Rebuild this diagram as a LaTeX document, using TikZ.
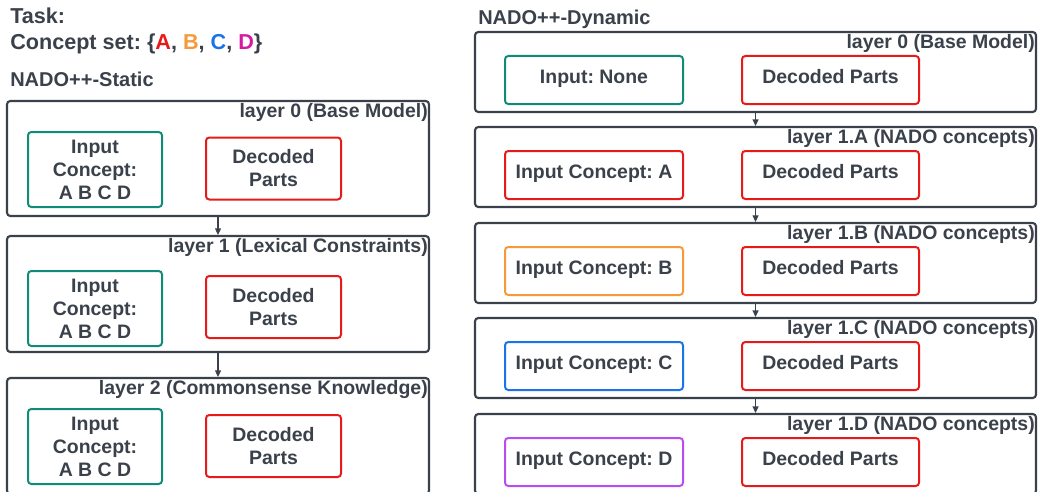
\documentclass[tikz,border=0pt]{standalone}
\usepackage{fontspec}
\setmainfont{Liberation Sans}
\usepackage{xcolor}
\usetikzlibrary{positioning,arrows.meta,calc}
\frenchspacing

\definecolor{lucidgray}{HTML}{3A414A}
\definecolor{conteal}{HTML}{0E8C77}
\definecolor{conred}{HTML}{E81919}
\definecolor{conorange}{HTML}{F59A3A}
\definecolor{conblue}{HTML}{1A73E8}
\definecolor{conpurple}{HTML}{B84CF0}
\definecolor{conmagenta}{HTML}{D61A9F}

\newcommand{\boxfont}{\fontsize{14.6}{17.3}\selectfont\bfseries}
\newcommand{\headfont}{\fontsize{15}{18}\selectfont\bfseries}
\newcommand{\taskfont}{\fontsize{16.2}{19}\selectfont\bfseries}

\tikzset{
  layerbox/.style={draw=lucidgray, line width=1.6pt, rounded corners=2.5pt, inner sep=0pt},
  partbox/.style={draw=#1, line width=1.5pt, rounded corners=2.5pt, inner sep=0pt,
    align=center, text=lucidgray, font=\boxfont},
  oneline/.style={text height=10.5pt, text depth=5.5pt},
  layerlabel/.style={anchor=base east, inner sep=0pt, text=lucidgray, font=\boxfont},
  headline/.style={anchor=base west, inner sep=0pt, text=lucidgray},
  flow/.style={draw=lucidgray, line width=1.1pt, -{Triangle[length=5pt,width=4.5pt]}},
}

\begin{document}
\begin{tikzpicture}[x=0.75pt, y=-0.75pt]
      \useasboundingbox (0,0) rectangle (1038,492);

      % task and titles
      \node[headline, font=\taskfont] (task) at (10,24) {Task:};
      \node[headline, font=\taskfont] (cset) at (10,50) {Concept set: \{\textcolor{conred}{A}, \textcolor{conorange}{B}, \textcolor{conblue}{C}, \textcolor{conmagenta}{D}\}};
      \node[headline, font=\headfont] (statictitle) at (10,87) {NADO++-Static};
      \node[headline, font=\headfont] (dyntitle) at (478,25) {NADO++-Dynamic};

      % NADO++-Static
      \node[layerbox, minimum width=316.5pt, minimum height=86.25pt] (s0) at (218,158.5) {};
      \node[layerlabel] (s0lab) at ($(s0.north east)+(-2,18)$) {layer 0 (Base Model)};
      \node[partbox=conteal, minimum width=100.5pt, minimum height=56.25pt] (s0in) at (95,169.5) {Input\\Concept:\\A B C D};
      \node[partbox=conred, minimum width=101.25pt, minimum height=46.5pt] (s0dec) at (273.5,168.5) {Decoded\\Parts};

      \node[layerbox, minimum width=316.5pt, minimum height=87pt] (s1) at (218,294) {};
      \node[layerlabel] (s1lab) at ($(s1.north east)+(-2,18)$) {layer 1 (Lexical Constraints)};
      \node[partbox=conteal, minimum width=100.5pt, minimum height=56.25pt] (s1in) at (95,308.5) {Input\\Concept:\\A B C D};
      \node[partbox=conred, minimum width=101.25pt, minimum height=46.5pt] (s1dec) at (273.5,307) {Decoded\\Parts};

      \node[layerbox, minimum width=316.5pt, minimum height=87pt] (s2) at (218,436) {};
      \node[layerlabel] (s2lab) at ($(s2.north east)+(-2,18)$) {layer 2 (Commonsense Knowledge)};
      \node[partbox=conteal, minimum width=100.5pt, minimum height=56.25pt] (s2in) at (95,446.5) {Input\\Concept:\\A B C D};
      \node[partbox=conred, minimum width=101.25pt, minimum height=46.5pt] (s2dec) at (273.5,446) {Decoded\\Parts};

      \draw[flow] (s0.south) -- (s1.north);
      \draw[flow] (s1.south) -- (s2.north);

      % NADO++-Dynamic
      \node[layerbox, minimum width=420.75pt, minimum height=60pt] (d0) at (755.5,72) {};
      \node[layerlabel] (d0lab) at ($(d0.north east)+(-2,18)$) {layer 0 (Base Model)};
      \node[partbox=conteal, oneline, minimum width=133.5pt, minimum height=36pt] (d0in) at (594,80) {Input: None};
      \node[partbox=conred, oneline, minimum width=132.75pt, minimum height=36pt] (d0dec) at (830.5,80) {Decoded Parts};

      \node[layerbox, minimum width=420.75pt, minimum height=60pt] (d1a) at (755.5,167) {};
      \node[layerlabel] (d1alab) at ($(d1a.north east)+(-2,18)$) {layer 1.A (NADO concepts)};
      \node[partbox=conred, oneline, minimum width=133.5pt, minimum height=36pt] (d1ain) at (594,175) {Input Concept: A};
      \node[partbox=conred, oneline, minimum width=132.75pt, minimum height=36pt] (d1adec) at (830.5,175) {Decoded Parts};

      \node[layerbox, minimum width=420.75pt, minimum height=60pt] (d1b) at (755.5,263) {};
      \node[layerlabel] (d1blab) at ($(d1b.north east)+(-2,18)$) {layer 1.B (NADO concepts)};
      \node[partbox=conorange, oneline, minimum width=133.5pt, minimum height=36pt] (d1bin) at (594,271) {Input Concept: B};
      \node[partbox=conred, oneline, minimum width=132.75pt, minimum height=36pt] (d1bdec) at (830.5,271) {Decoded Parts};

      \node[layerbox, minimum width=420.75pt, minimum height=60pt] (d1c) at (755.5,358) {};
      \node[layerlabel] (d1clab) at ($(d1c.north east)+(-2,18)$) {layer 1.C (NADO concepts)};
      \node[partbox=conblue, oneline, minimum width=133.5pt, minimum height=36pt] (d1cin) at (594,366) {Input Concept: C};
      \node[partbox=conred, oneline, minimum width=132.75pt, minimum height=36pt] (d1cdec) at (830.5,366) {Decoded Parts};

      \node[layerbox, minimum width=420.75pt, minimum height=60pt] (d1d) at (755.5,454) {};
      \node[layerlabel] (d1dlab) at ($(d1d.north east)+(-2,18)$) {layer 1.D (NADO concepts)};
      \node[partbox=conpurple, oneline, minimum width=133.5pt, minimum height=36pt] (d1din) at (594,462) {Input Concept: D};
      \node[partbox=conred, oneline, minimum width=132.75pt, minimum height=36pt] (d1ddec) at (830.5,462) {Decoded Parts};

      \draw[flow] (d0.south) -- (d1a.north);
      \draw[flow] (d1a.south) -- (d1b.north);
      \draw[flow] (d1b.south) -- (d1c.north);
      \draw[flow] (d1c.south) -- (d1d.north);
    \end{tikzpicture}
\end{document}
